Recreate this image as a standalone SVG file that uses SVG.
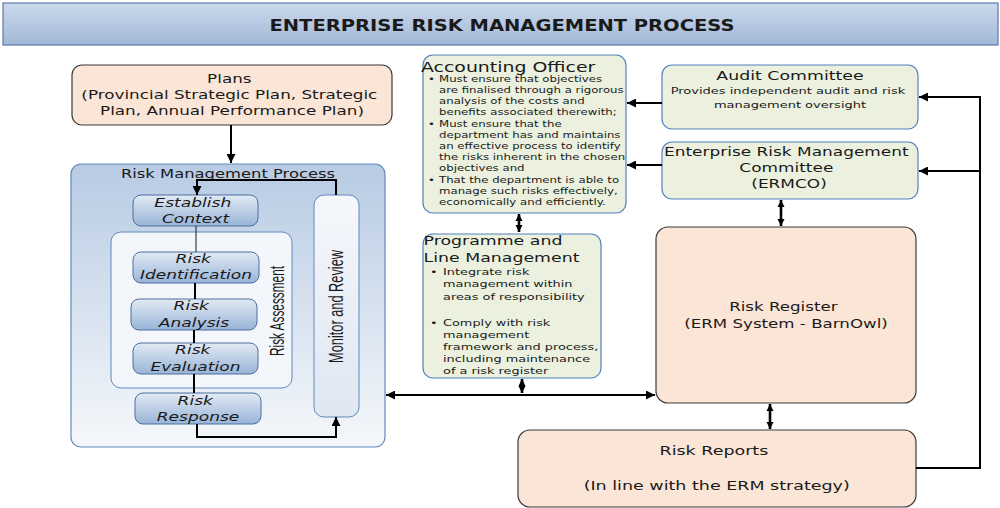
<svg xmlns="http://www.w3.org/2000/svg" width="1000" height="508" viewBox="0 0 1000 508">
  <style>
    .t { font-family: "DejaVu Sans", "Liberation Sans", sans-serif; fill: #1a1a1a; }
    .c { text-anchor: middle; }
    .it { font-style: italic; }
    .v { font-family: "Liberation Sans", Arial, sans-serif; fill: #1a1a1a; text-anchor: middle; }
    .peach { fill: #fbe5d6; stroke: #3a3a3a; stroke-width: 1.2; }
    .green { fill: #ebf1de; stroke: #4f81bd; stroke-width: 1.2; }
    .step { fill: url(#stepGrad); stroke: #4d6f9f; stroke-width: 1; }
    .wire { fill: none; stroke: #000; stroke-width: 2; }
    .thin { fill: none; stroke: #1a1a1a; stroke-width: 1; }
    .dbl { fill: none; stroke: #000; stroke-width: 2.6; }
  </style>
  <defs>
    <linearGradient id="titleGrad" x1="0" y1="0" x2="0" y2="1">
      <stop offset="0" stop-color="#cbd9eb"/>
      <stop offset="1" stop-color="#a2b8d8"/>
    </linearGradient>
    <linearGradient id="rmpGrad" x1="0" y1="0" x2="0" y2="1">
      <stop offset="0" stop-color="#b7cbe3"/>
      <stop offset="1" stop-color="#f5f8fb"/>
    </linearGradient>
    <linearGradient id="stepGrad" x1="0" y1="0" x2="0" y2="1">
      <stop offset="0" stop-color="#e2eaf4"/>
      <stop offset="1" stop-color="#98b4d7"/>
    </linearGradient>
    <linearGradient id="monGrad" x1="0" y1="0" x2="0" y2="1">
      <stop offset="0" stop-color="#f5f7fb"/>
      <stop offset="1" stop-color="#dfe7f2"/>
    </linearGradient>
    <marker id="ah" viewBox="0 0 10 10" refX="10" refY="5" markerUnits="userSpaceOnUse" markerWidth="9" markerHeight="9" orient="auto-start-reverse">
      <path d="M0,0 L10,5 L0,10 z" fill="#000"/>
    </marker>
    <marker id="dh" viewBox="0 0 10 10" refX="10" refY="5" markerUnits="userSpaceOnUse" markerWidth="7" markerHeight="8" orient="auto-start-reverse">
      <path d="M0,0 L10,5 L0,10 z" fill="#000"/>
    </marker>
  </defs>

  <!-- heading band -->
  <g id="heading">
    <rect x="3" y="3" width="995" height="42" fill="url(#titleGrad)" stroke="#5b7bab" stroke-width="1.2"/>
    <text class="t c" x="502" y="30.5" font-size="16.5" font-weight="bold" textLength="465" lengthAdjust="spacingAndGlyphs">ENTERPRISE RISK MANAGEMENT PROCESS</text>
  </g>

  <!-- plans -->
  <g id="plans">
    <rect class="peach" x="72" y="65" width="320" height="60" rx="10"/>
    <text class="t c" font-size="12" transform="translate(232,0) scale(1.4,1)">
      <tspan x="0" y="83.5">Plans</tspan>
      <tspan x="0" y="99.5">(Provincial Strategic Plan, Strategic</tspan>
      <tspan x="0" y="115.5">Plan, Annual Performance Plan)</tspan>
    </text>
  </g>

  <!-- risk management process -->
  <g id="risk-management-process">
    <rect x="71" y="164" width="314" height="283" rx="10" fill="url(#rmpGrad)" stroke="#6189bf" stroke-width="1.2"/>
    <text class="t c" font-size="11.7" transform="translate(228,177.5) scale(1.4,1)">Risk Management Process</text>
  </g>

  <g id="establish-context">
    <rect class="step" x="133" y="195" width="125" height="31" rx="8"/>
    <text class="t c it" font-size="12.2" transform="translate(195.5,0) scale(1.4,1)">
      <tspan x="0" y="206.8">Establish</tspan>
      <tspan x="0" y="222.8">Context</tspan>
    </text>
  </g>

  <g id="risk-assessment">
    <rect x="111" y="232" width="181" height="156" rx="10" fill="#f3f6fa" stroke="#6189bf" stroke-width="1"/>
    <text class="v" font-size="13" textLength="90" lengthAdjust="spacingAndGlyphs" transform="translate(284,311) rotate(-90) scale(1,1.6)">Risk Assessment</text>
  </g>

  <g id="risk-identification">
    <rect class="step" x="133" y="252" width="126" height="31" rx="8"/>
    <text class="t c it" font-size="12.2" transform="translate(196,0) scale(1.4,1)">
      <tspan x="0" y="262.8">Risk</tspan>
      <tspan x="0" y="279.5">Identification</tspan>
    </text>
  </g>

  <g id="risk-analysis">
    <rect class="step" x="131" y="299" width="126" height="31" rx="8"/>
    <text class="t c it" font-size="12.2" transform="translate(194,0) scale(1.4,1)">
      <tspan x="0" y="310.2">Risk</tspan>
      <tspan x="0" y="326.8">Analysis</tspan>
    </text>
  </g>

  <g id="risk-evaluation">
    <rect class="step" x="133" y="343" width="125" height="31" rx="8"/>
    <text class="t c it" font-size="12.2" transform="translate(195.5,0) scale(1.4,1)">
      <tspan x="0" y="353.8">Risk</tspan>
      <tspan x="0" y="371.2">Evaluation</tspan>
    </text>
  </g>

  <g id="risk-response">
    <rect class="step" x="135" y="393" width="126" height="31" rx="8"/>
    <text class="t c it" font-size="12.2" transform="translate(198,0) scale(1.4,1)">
      <tspan x="0" y="405.2">Risk</tspan>
      <tspan x="0" y="421.2">Response</tspan>
    </text>
  </g>

  <g id="monitor-review">
    <rect x="314" y="195" width="45" height="222" rx="10" fill="url(#monGrad)" stroke="#6189bf" stroke-width="1"/>
    <text class="v" font-size="13" textLength="113" lengthAdjust="spacingAndGlyphs" transform="translate(343,306.5) rotate(-90) scale(1,1.6)">Monitor and Review</text>
  </g>

  <!-- accounting officer -->
  <g id="accounting-officer">
    <rect class="green" x="423" y="55" width="203" height="158" rx="10"/>
    <text class="t" font-size="13.5" transform="translate(421,72) scale(1.4,1)">Accounting Officer</text>
    <text class="t" font-size="8.4" transform="translate(439,0) scale(1.4,1)">
      <tspan x="-7.9" y="81.8">•</tspan>
      <tspan x="0" y="81.8">Must ensure that objectives</tspan>
      <tspan x="0" y="93">are finalised through a rigorous</tspan>
      <tspan x="0" y="104.2">analysis of the costs and</tspan>
      <tspan x="0" y="115.4">benefits associated therewith;</tspan>
      <tspan x="-7.9" y="126.6">•</tspan>
      <tspan x="0" y="126.6">Must ensure that the</tspan>
      <tspan x="0" y="137.8">department has and maintains</tspan>
      <tspan x="0" y="149">an effective process to identify</tspan>
      <tspan x="0" y="160.2">the risks inherent in the chosen</tspan>
      <tspan x="0" y="171.4">objectives and</tspan>
      <tspan x="-7.9" y="182.6">•</tspan>
      <tspan x="0" y="182.6">That the department is able to</tspan>
      <tspan x="0" y="193.8">manage such risks effectively,</tspan>
      <tspan x="0" y="205">economically and efficiently.</tspan>
    </text>
  </g>

  <!-- programme and line management -->
  <g id="programme-line-management">
    <rect class="green" x="423" y="234" width="178" height="144" rx="10"/>
    <text class="t" font-size="12.4" transform="translate(423.5,0) scale(1.4,1)">
      <tspan x="0" y="245">Programme and</tspan>
      <tspan x="0" y="262.5">Line Management</tspan>
    </text>
    <text class="t" font-size="9.2" transform="translate(443,0) scale(1.4,1)">
      <tspan x="-9.3" y="275.5">•</tspan>
      <tspan x="0" y="275.5">Integrate risk</tspan>
      <tspan x="0" y="287.5">management within</tspan>
      <tspan x="0" y="300">areas of responsibility</tspan>
      <tspan x="-9.3" y="326.5">•</tspan>
      <tspan x="0" y="326.5">Comply with risk</tspan>
      <tspan x="0" y="338.3">management</tspan>
      <tspan x="0" y="350">framework and process,</tspan>
      <tspan x="0" y="362.3">including maintenance</tspan>
      <tspan x="0" y="374.3">of a risk register</tspan>
    </text>
  </g>

  <!-- audit committee -->
  <g id="audit-committee">
    <rect class="green" x="662" y="65" width="256" height="64" rx="10"/>
    <text class="t c" font-size="12.4" transform="translate(790,79.5) scale(1.4,1)">Audit Committee</text>
    <text class="t c" font-size="9.3" transform="translate(790,0) scale(1.4,1)">
      <tspan x="0" y="94">Provides independent audit and risk</tspan>
      <tspan x="0" y="108.3">management oversight</tspan>
    </text>
  </g>

  <!-- ERMCO -->
  <g id="ermco">
    <rect class="green" x="662" y="142" width="256" height="57" rx="10"/>
    <text class="t c" font-size="12.1" transform="translate(789,0) scale(1.4,1)">
      <tspan x="0" y="156">Enterprise Risk Management</tspan>
      <tspan x="0" y="172">Committee</tspan>
      <tspan x="0" y="187.6">(ERMCO)</tspan>
    </text>
  </g>

  <!-- risk register -->
  <g id="risk-register">
    <rect class="peach" x="656" y="227" width="260" height="176" rx="12"/>
    <text class="t c" font-size="11.9" transform="translate(786,0) scale(1.4,1)">
      <tspan x="0" y="311">Risk Register</tspan>
      <tspan x="0" y="327.6">(ERM System - BarnOwl)</tspan>
    </text>
  </g>

  <!-- risk reports -->
  <g id="risk-reports">
    <rect class="peach" x="518" y="430" width="398" height="77" rx="12"/>
    <text class="t c" font-size="12.5" transform="translate(716.7,0) scale(1.4,1)">
      <tspan x="0" y="455.5">Risk Reports</tspan>
      <tspan x="0" y="490.2">(In line with the ERM strategy)</tspan>
    </text>
  </g>

  <!-- connectors, drawn over the node fills -->
  <g id="connectors">
    <path class="wire" d="M231,125 V163" marker-end="url(#ah)"/>
    <path class="wire" d="M336,195 V180 H197 V195" marker-end="url(#ah)"/>
    <path class="thin" d="M196,226 V252"/>
    <path class="wire" d="M195,283 V299"/>
    <path class="wire" d="M194,330 V343"/>
    <path class="wire" d="M194,374 V393"/>
    <path class="wire" d="M197,424 V437 H336 V417" marker-end="url(#ah)"/>
    <path class="wire" d="M386,395 H655" marker-start="url(#ah)" marker-end="url(#ah)" stroke-width="1.6"/>
    <path class="dbl" d="M519,214 V232" marker-start="url(#dh)" marker-end="url(#dh)"/>
    <path class="dbl" d="M522,379 V393" marker-start="url(#dh)" marker-end="url(#dh)"/>
    <path class="wire" d="M662,103 H627" marker-end="url(#ah)" stroke-width="1.6"/>
    <path class="wire" d="M662,165 H627" marker-end="url(#ah)" stroke-width="1.6"/>
    <path class="dbl" d="M781,200 V226" marker-start="url(#dh)" marker-end="url(#dh)"/>
    <path class="dbl" d="M770,404 V429" marker-start="url(#dh)" marker-end="url(#dh)"/>
    <path class="wire" d="M916,468 H980 V97 H919" marker-end="url(#ah)"/>
    <path class="wire" d="M980,171 H919" marker-end="url(#ah)"/>
  </g>
</svg>
